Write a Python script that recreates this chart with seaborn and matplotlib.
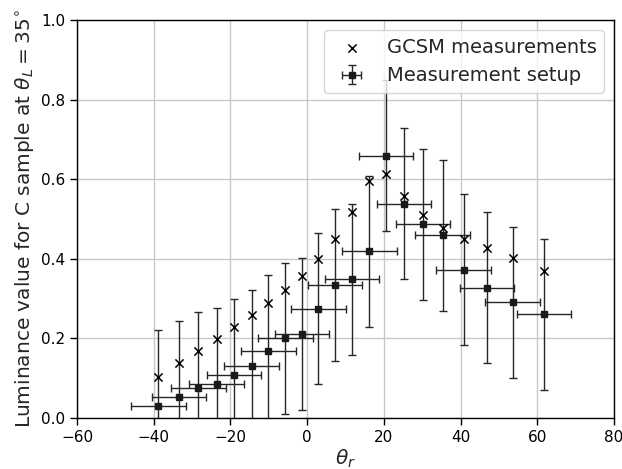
import seaborn as sns
import pandas as pd
import matplotlib
matplotlib.use("Agg")
import matplotlib.pyplot as plt

# reflection angle theta_r (deg)
theta_r = [-38.8, -33.4, -28.4, -23.6, -19.1, -14.5, -10.1, -5.7, -1.4, 2.9,
           7.3, 11.7, 16.2, 20.6, 25.3, 30.2, 35.3, 40.8, 46.9, 53.6, 61.7]
# GCSM model values
gcsm = [0.104, 0.138, 0.168, 0.198, 0.228, 0.258, 0.290, 0.321, 0.357, 0.399,
        0.450, 0.517, 0.595, 0.612, 0.557, 0.509, 0.477, 0.450, 0.426, 0.401, 0.370]
# measured luminance
setup = [0.030, 0.053, 0.075, 0.086, 0.108, 0.131, 0.169, 0.200, 0.211, 0.275,
         0.334, 0.348, 0.419, 0.659, 0.539, 0.487, 0.459, 0.372, 0.327, 0.291, 0.261]
y_err = 0.19
x_err = 7.1

df = pd.DataFrame({"theta_r": theta_r, "gcsm": gcsm, "setup": setup})

sns.set_theme(style="ticks", rc={"axes.edgecolor": "black", "xtick.color": "black",
                                 "ytick.color": "black", "axes.linewidth": 1.0})
plt.rcParams["font.family"] = ["DejaVu Sans"]

fig, ax = plt.subplots(figsize=(6.22, 4.69), dpi=100)
fig.subplots_adjust(left=0.124, right=0.987, top=0.957, bottom=0.109)

ax.grid(True, color="#c8c8c8", linewidth=1.0)
ax.set_axisbelow(True)

sns.scatterplot(data=df, x="theta_r", y="gcsm", marker="x", color="black",
                s=35, linewidth=1.1, ax=ax, label="GCSM measurements", zorder=3)
ax.errorbar(df["theta_r"], df["setup"], xerr=x_err, yerr=y_err, fmt="s",
            color="#1a1a1a", ms=5, ecolor="#262626", elinewidth=1.0,
            capsize=3, capthick=1.0, label="Measurement setup", zorder=2)

ax.set_xlim(-60, 80)
ax.set_ylim(0, 1.0)
ax.set_xticks(range(-60, 81, 20))
ax.set_yticks([0.0, 0.2, 0.4, 0.6, 0.8, 1.0])
ax.tick_params(labelsize=11, length=5, width=1)
ax.set_xlabel(r"$\theta_r$", fontsize=14.5, labelpad=2)
ax.set_ylabel(r"Luminance value for C sample at $\theta_L = 35^{\circ}$", fontsize=14.5)
ax.legend(loc="upper right", fontsize=14, borderaxespad=0.5)

fig.savefig("out.png", dpi=100)
